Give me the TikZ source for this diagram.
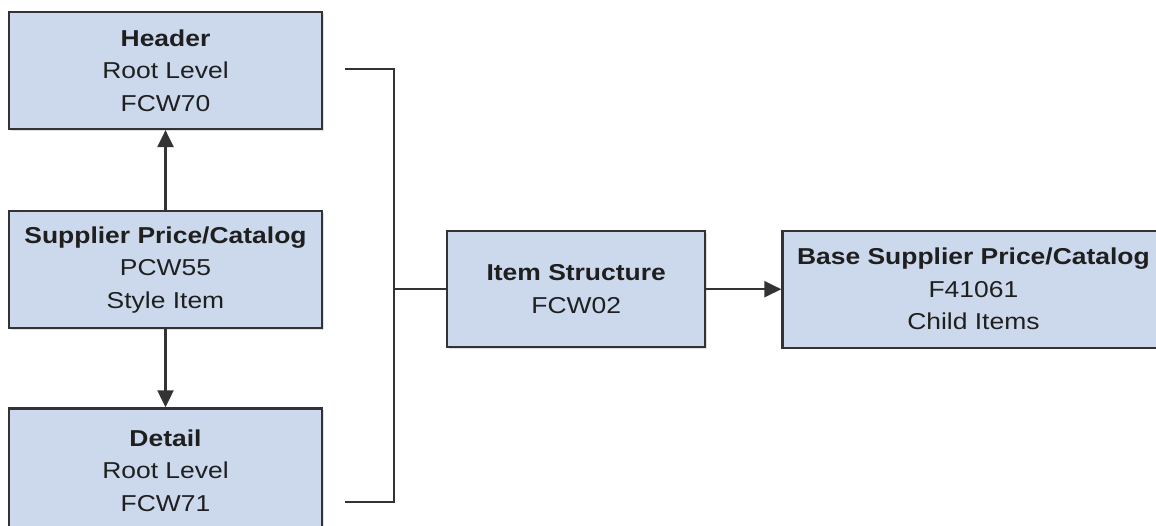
\documentclass[tikz,border=0pt]{standalone}
\usepackage{fontspec}
\setmainfont{Liberation Sans}[FakeStretch=1.15]
\usetikzlibrary{arrows.meta,positioning,shadows}
\definecolor{boxblue}{HTML}{CCD9EC}
\definecolor{edgegray}{HTML}{333333}

\begin{document}
\begin{tikzpicture}[x=1pt,y=-1pt,
  tbl/.style={draw=edgegray,line width=2.2pt,fill=boxblue,align=center,
    inner sep=0pt,minimum height=117pt,text=black!88,
    font=\fontsize{23}{32.5}\selectfont,
    drop shadow={shadow xshift=1.5pt,shadow yshift=-1.5pt,opacity=0.25}},
  link/.style={draw=edgegray,line width=2.2pt},
  arr/.style={link,-{Triangle[length=17pt,width=16pt]}}
]
\useasboundingbox (0,0) rectangle (1156,525);

\node[tbl,minimum width=313pt] (header) at (165.5,70.5)
  {{\bfseries Header}\\Root Level\\FCW70};
\node[tbl,minimum width=313pt,below=80pt of header] (supplier)
  {{\bfseries Supplier Price/Catalog}\\PCW55\\Style Item};
\node[tbl,minimum width=313pt,minimum height=124pt,below=78pt of supplier] (detail)
  {{\bfseries Detail}\\Root Level\\FCW71};

\node[tbl,minimum width=258pt,minimum height=116pt,right=123pt of supplier,
  yshift=-19.5pt] (item) {{\bfseries Item Structure}\\FCW02};
\node[tbl,minimum width=382pt,right=75pt of item] (base)
  {{\bfseries Base Supplier Price/Catalog}\\F41061\\Child Items};

\draw[arr] (supplier) -- (header);
\draw[arr] (supplier) -- (detail);
\draw[arr] (item) -- (base);

% bracket joining header and detail
\coordinate (hend) at (345,69);
\coordinate (hcorner) at (394,69);
\coordinate (dend) at (345,502);
\draw[link] (hend) -- (hcorner) |- (dend);
\draw[link] (item.west) -- (item.west -| hcorner);
\end{tikzpicture}
\end{document}
